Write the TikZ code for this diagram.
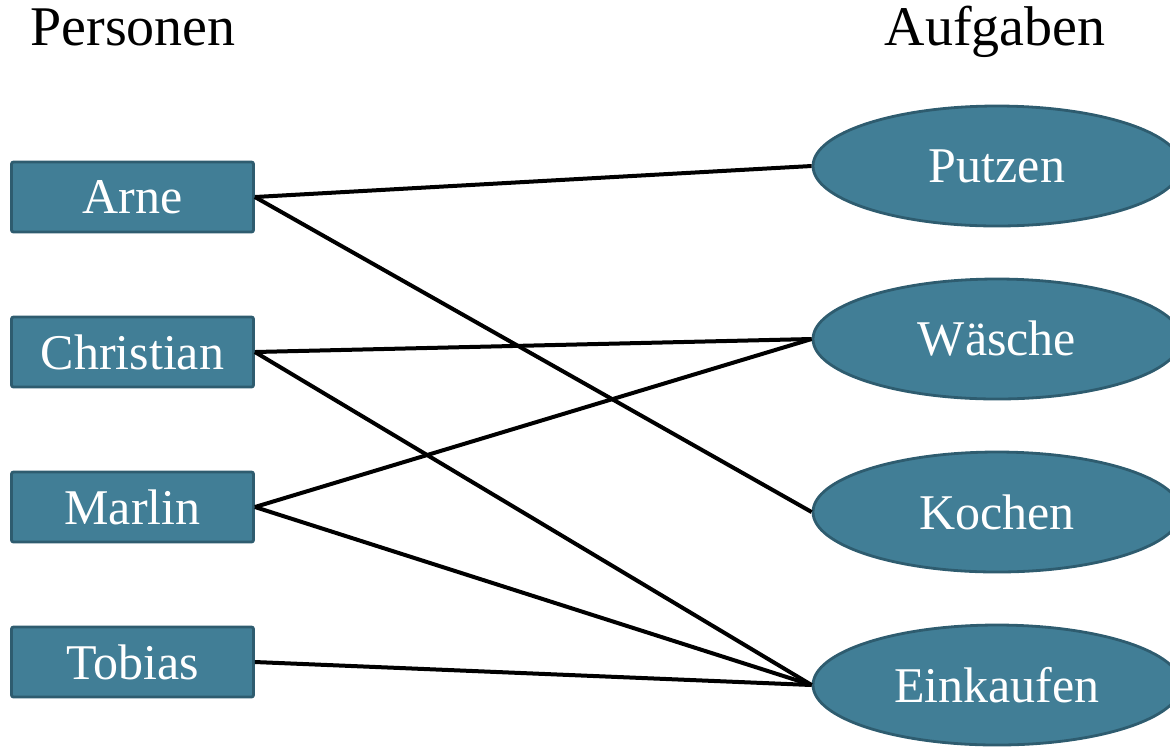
\documentclass[tikz,border=0pt]{standalone}
\usepackage{fontspec}
\setmainfont{Liberation Serif}
\usetikzlibrary{shapes.geometric}
\definecolor{boxfill}{RGB}{65,126,150}
\definecolor{boxline}{RGB}{46,92,111}
\tikzset{
  person/.style={rectangle, rounded corners=1pt, fill=boxfill, draw=boxline, line width=1.4pt,
    minimum width=121pt, minimum height=35pt, inner sep=0pt,
    text=white, font=\fontsize{25}{30}\selectfont},
  task/.style={ellipse, fill=boxfill, draw=boxline, line width=1.4pt,
    minimum width=184pt, minimum height=60pt, inner sep=0pt,
    text=white, font=\fontsize{25}{30}\selectfont},
  heading/.style={anchor=base, inner sep=0pt, font=\fontsize{28}{34}\selectfont},
  link/.style={line width=2pt, black}
}
\begin{document}
\begin{tikzpicture}[x=0.5pt,y=-0.5pt]
  \useasboundingbox (0,0) rectangle (1170,746);
  \clip (0,0) rectangle (1170,746);

  % column headings
  \node[heading] (hp) at (133,45) {Personen};
  \node[heading] (ha) at (995,45) {Aufgaben};

  % people
  \node[person] (arne)      at (132.5,197) {Arne};
  \node[person] (christian) at (132.5,352) {Christian};
  \node[person] (marlin)    at (132.5,507) {Marlin};
  \node[person] (tobias)    at (132.5,662) {Tobias};

  % tasks
  \node[task] (putzen)    at (997,166) {Putzen};
  \node[task] (waesche)   at (997,339) {Wäsche};
  \node[task] (kochen)    at (997,512) {Kochen};
  \node[task] (einkaufen) at (997,685) {Einkaufen};

  % assignments
  \draw[link] (arne.east) -- (putzen.west);
  \draw[link] (arne.east) -- (kochen.west);
  \draw[link] (christian.east) -- (waesche.west);
  \draw[link] (christian.east) -- (einkaufen.west);
  \draw[link] (marlin.east) -- (waesche.west);
  \draw[link] (marlin.east) -- (einkaufen.west);
  \draw[link] (tobias.east) -- (einkaufen.west);
\end{tikzpicture}
\end{document}
